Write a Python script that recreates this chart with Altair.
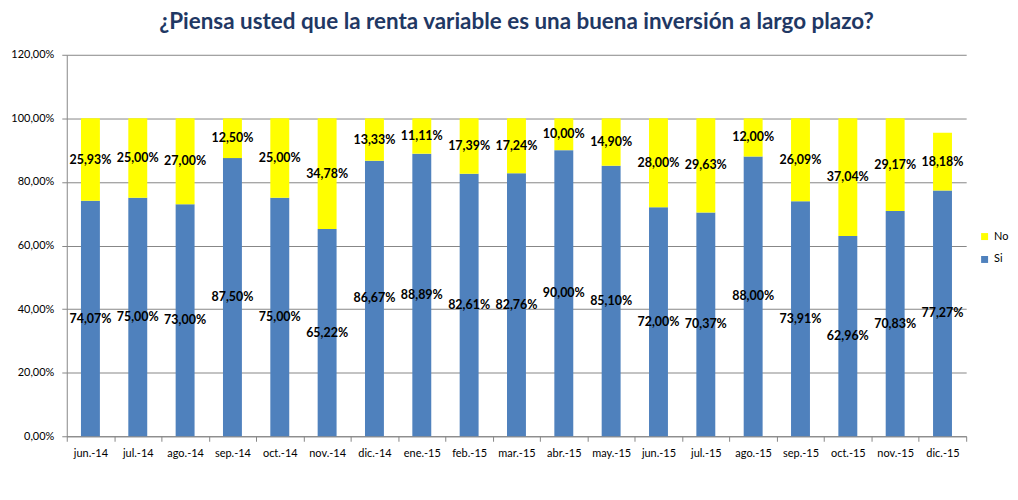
import altair as alt
import pandas as pd

months = ["jun.-14", "jul.-14", "ago.-14", "sep.-14", "oct.-14", "nov.-14", "dic.-14",
          "ene.-15", "feb.-15", "mar.-15", "abr.-15", "may.-15", "jun.-15", "jul.-15",
          "ago.-15", "sep.-15", "oct.-15", "nov.-15", "dic.-15"]
si = [74.07, 75.00, 73.00, 87.50, 75.00, 65.22, 86.67, 88.89, 82.61, 82.76,
      90.00, 85.10, 72.00, 70.37, 88.00, 73.91, 62.96, 70.83, 77.27]
no = [25.93, 25.00, 27.00, 12.50, 25.00, 34.78, 13.33, 11.11, 17.39, 17.24,
      10.00, 14.90, 28.00, 29.63, 12.00, 26.09, 37.04, 29.17, 18.18]

rows = []
for m, s, n in zip(months, si, no):
    rows.append({"mes": m, "serie": "Si", "valor": s, "orden": 0})
    rows.append({"mes": m, "serie": "No", "valor": n, "orden": 1})
df = pd.DataFrame(rows)
df["etiqueta"] = df["valor"].map(lambda v: f"{v:.2f}".replace(".", ",") + "%")

FONT = "Lato"
GRID = "#868686"

base = alt.Chart(df).transform_stack(
    stack="valor", groupby=["mes"], as_=["y0", "y1"],
    sort=[alt.SortField("orden", order="ascending")]
).transform_calculate(mid="(datum.y0 + datum.y1) / 2")

xenc = alt.X("mes:N", sort=months, title=None,
             scale=alt.Scale(paddingInner=0, paddingOuter=0),
             axis=alt.Axis(labelAngle=0, tickBand="extent", grid=False,
                           domainColor=GRID, tickColor=GRID, tickSize=5,
                           labelFontSize=11, labelColor="#000000", labelFont=FONT,
                           labelPadding=6))

bars = base.mark_bar(size=19).encode(
    x=xenc,
    y=alt.Y("y0:Q", title=None, scale=alt.Scale(domain=[0, 120], nice=False),
            axis=alt.Axis(values=[0, 20, 40, 60, 80, 100, 120],
                          labelExpr="replace(format(datum.value, '.2f'), '.', ',') + '%'",
                          grid=True, gridColor=GRID, domainColor=GRID, tickColor=GRID,
                          tickSize=5, labelPadding=8, labelFontSize=11,
                          labelColor="#000000", labelFont=FONT)),
    y2="y1:Q",
    color=alt.Color("serie:N",
                    scale=alt.Scale(domain=["No", "Si"], range=["#FFFF00", "#4F81BD"]),
                    legend=alt.Legend(title=None, orient="none", legendX=916, legendY=177,
                                      symbolType="square", symbolSize=49,
                                      symbolStrokeWidth=0, labelFontSize=11,
                                      labelFont=FONT, rowPadding=11, labelOffset=4)),
)

texts = base.mark_text(fontWeight="bold", fontSize=12.5, font=FONT, color="#000000").encode(
    x=alt.X("mes:N", sort=months),
    y=alt.Y("mid:Q"),
    text="etiqueta:N",
)

chart = alt.layer(bars, texts).properties(
    width=903, height=383,
    autosize=alt.AutoSizeParams(type="none"),
    padding={"left": 59, "top": 46, "right": 44, "bottom": 55},
    title=alt.TitleParams(
        "¿Piensa usted que la renta variable es una buena inversión a largo plazo?",
        fontSize=22.5, fontWeight="bold", color="#1F3864", font=FONT,
        anchor="middle", offset=15),
).configure_view(stroke=None)

chart.save("out.html", embed_options={"renderer": "svg", "actions": False})
